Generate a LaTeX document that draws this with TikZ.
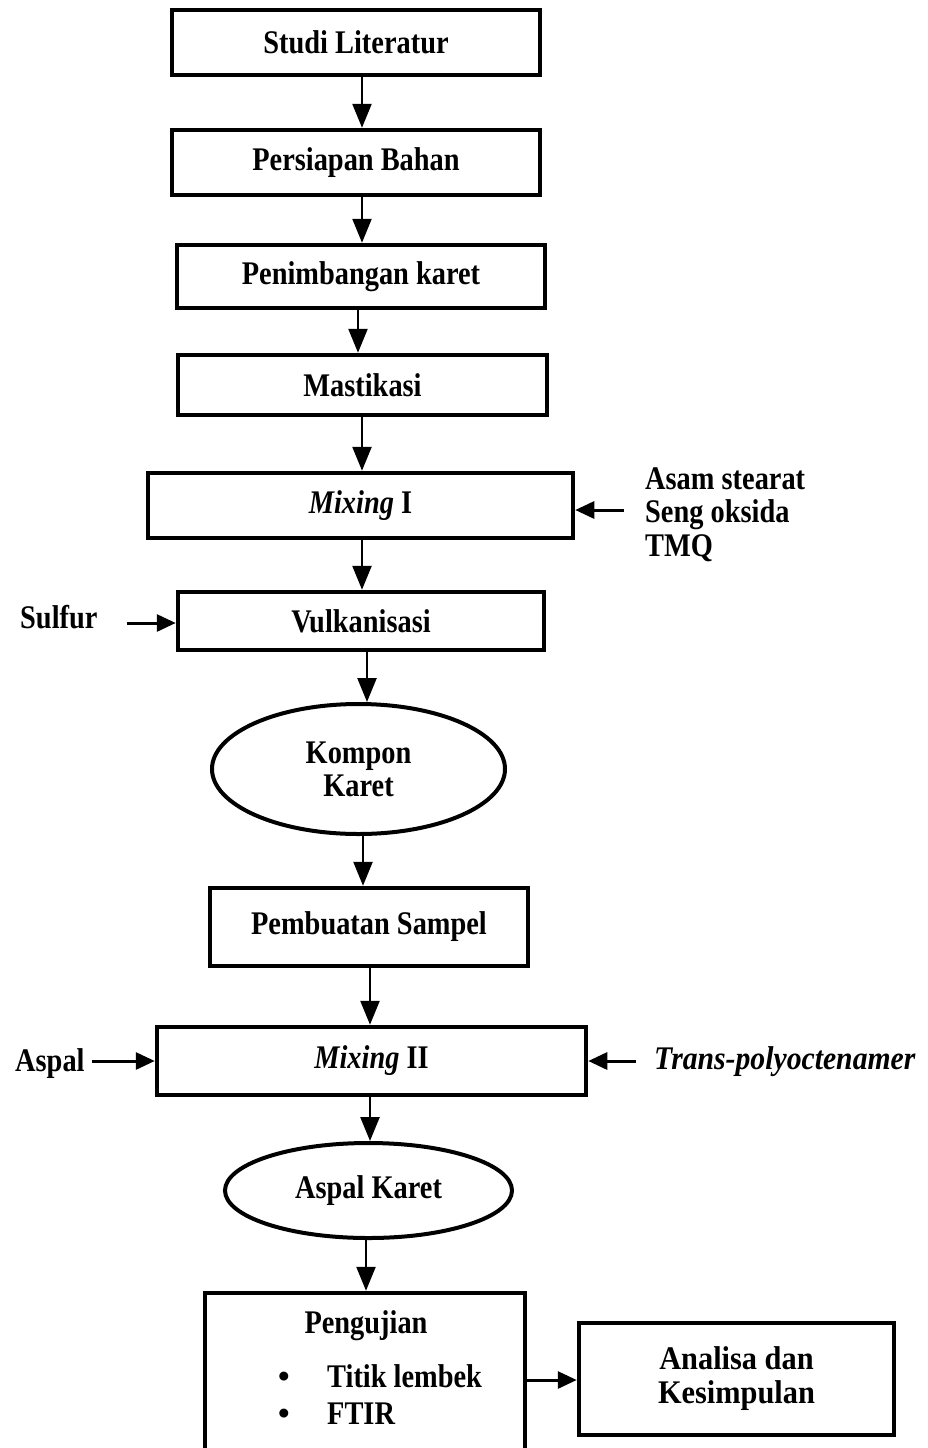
\documentclass[tikz,border=0pt]{standalone}
\usepackage{fontspec}
\setmainfont{Liberation Serif}
\usetikzlibrary{arrows.meta,shapes.geometric}
\newcommand\boxfs{\fontsize{33}{34}\selectfont}
\newcommand\bx[1]{\scalebox{0.86}[1]{#1}}
\begin{document}
\begin{tikzpicture}[x=1pt,y=-1pt,
  box/.style={draw, line width=4.5pt, rectangle, inner sep=0pt, align=center, font=\bfseries\boxfs},
  oval/.style={draw, ellipse, line width=4pt, inner sep=0pt, align=center, font=\bfseries\boxfs},
  varr/.style={line width=2.5pt, -{Triangle[length=24pt,width=19pt]}},
  harr/.style={line width=3pt, -{Triangle[length=19pt,width=17pt]}},
  lbl/.style={anchor=base west, inner sep=0pt, font=\bfseries\boxfs},
]
\useasboundingbox (0,0) rectangle (927,1448);
\fill[white] (0,0) rectangle (927,1448);
\clip (0,0) rectangle (927,1448);

% main boxes
\node[box, minimum width=368pt, minimum height=65pt] (studi) at (356,42.5) {\bx{Studi Literatur}};
\node[box, minimum width=368pt, minimum height=65pt] (persiapan) at (356,162.5) {\bx{Persiapan Bahan}};
\node[box, minimum width=368pt, minimum height=63pt] (penimbangan) at (361,276.5) {\bx{Penimbangan karet}};
\node[box, minimum width=369pt, minimum height=60pt] (mastikasi) at (362.5,385) {\bx{Mastikasi}};
\node[box, minimum width=425pt, minimum height=65pt] (mixing1) at (360.5,505.5) {\bx{\textit{Mixing} I}};
\node[box, minimum width=366pt, minimum height=58pt] (vulk) at (361,621) {\bx{Vulkanisasi}};
\node[oval, minimum width=293pt, minimum height=130pt] (kompon) at (358.5,769) {\bx{Kompon}\\[-1pt]\bx{Karet}};
\node[box, minimum width=318pt, minimum height=78pt] (pembuatan) at (369,927) {\bx{Pembuatan Sampel}};
\node[box, minimum width=429pt, minimum height=68pt] (mixing2) at (371.5,1061) {\bx{\textit{Mixing} II}};
\node[oval, minimum width=287pt, minimum height=95pt] (aspalkaret) at (368.5,1190.5) {\bx{Aspal Karet}};
\node[box, minimum width=320pt, minimum height=177pt] (pengujian) at (365,1381.5) {};
\node[box, minimum width=315pt, minimum height=112pt] (analisa) at (736.5,1379) {\scalebox{0.92}[1]{Analisa dan}\\[0pt]\scalebox{0.92}[1]{Kesimpulan}};

% texts inside Pengujian
\node[lbl, anchor=base] (pjtitle) at (366,1333) {\bx{Pengujian}};
\node[lbl, anchor=base] (b1) at (284,1387) {•};
\node[lbl] (titik) at (327,1387) {\bx{Titik lembek}};
\node[lbl, anchor=base] (b2) at (284,1424) {•};
\node[lbl] (ftir) at (327,1424) {\bx{FTIR}};

% side labels
\node[lbl] (asam) at (645,489) {\bx{Asam stearat}};
\node[lbl] (seng) at (645,522) {\bx{Seng oksida}};
\node[lbl] (tmq) at (645,556) {\bx{TMQ}};
\node[lbl] (sulfur) at (20,628) {\bx{Sulfur}};
\node[lbl] (aspal) at (15,1071) {\bx{Aspal}};
\node[lbl] (trans) at (654,1069) {\scalebox{0.9}[1]{\textit{Trans-polyoctenamer}}};

% columns for vertical arrows
\coordinate (c1) at (362,0);
\coordinate (c2) at (358,0);
\coordinate (c3) at (367,0);
\coordinate (c4) at (363,0);
\coordinate (c5) at (370,0);
\coordinate (c6) at (366,0);

\draw[varr] (studi.south -| c1) -- (persiapan.north -| c1);
\draw[varr] (persiapan.south -| c1) -- (penimbangan.north -| c1);
\draw[varr] (penimbangan.south -| c2) -- (mastikasi.north -| c2);
\draw[varr] (mastikasi.south -| c1) -- (mixing1.north -| c1);
\draw[varr] (mixing1.south -| c1) -- (vulk.north -| c1);
\draw[varr] (vulk.south -| c3) -- (kompon.north -| c3);
\draw[varr] (kompon.south -| c4) -- (pembuatan.north -| c4);
\draw[varr] (pembuatan.south -| c5) -- (mixing2.north -| c5);
\draw[varr] (mixing2.south -| c5) -- (aspalkaret.north -| c5);
\draw[varr] (aspalkaret.south -| c6) -- (pengujian.north -| c6);

% side arrows
\coordinate (s1) at (624,510);
\draw[harr] (s1) -- (s1 -| mixing1.east);
\coordinate (s2) at (127,623);
\draw[harr] (s2) -- (s2 -| vulk.west);
\coordinate (s3) at (92,1061);
\draw[harr] (s3) -- (s3 -| mixing2.west);
\coordinate (s4) at (636,1061);
\draw[harr] (s4) -- (s4 -| mixing2.east);
\coordinate (s5) at (525,1380);
\draw[harr] (s5 -| pengujian.east) -- (s5 -| analisa.west);
\end{tikzpicture}
\end{document}
